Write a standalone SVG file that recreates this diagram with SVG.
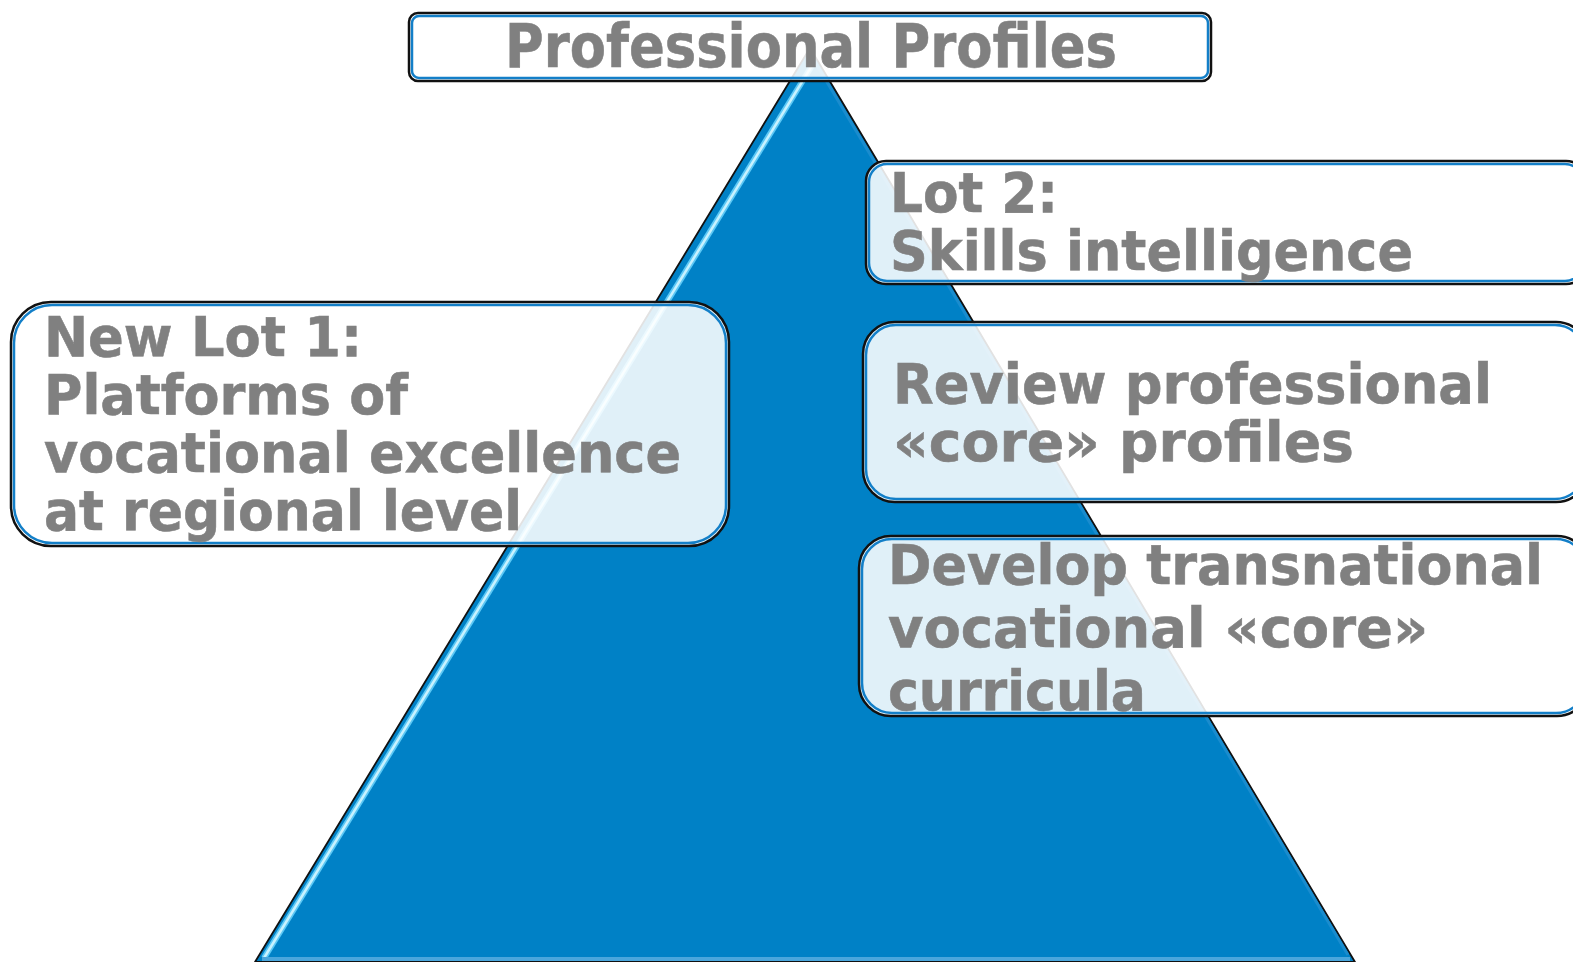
<svg xmlns="http://www.w3.org/2000/svg" width="1573" height="962" viewBox="0 0 1573 962">
  <style>
    .box { fill: #ffffff; fill-opacity: 0.88; stroke: #111111; stroke-width: 2.5; }
    .inner { fill: none; stroke: #137fc8; stroke-width: 2.5; }
    .t { font-family: "DejaVu Sans", Verdana, sans-serif; font-weight: bold; fill: #808080; stroke: #808080; stroke-width: 0.6; }
    .body { font-size: 56px; }
  </style>
  <rect width="1573" height="962" fill="#ffffff"/>

  <g id="pyramid">
    <polygon points="810,48 255,962 1355,962" fill="#0081c6" stroke="#111111" stroke-width="1.8" stroke-linejoin="round"/>
    <line x1="813" y1="64" x2="264" y2="958" stroke="#5cc8f5" stroke-width="6"/>
    <line x1="813" y1="64" x2="264" y2="958" stroke="#c8f2ff" stroke-width="2.5"/>
    <line x1="262" y1="959" x2="1350" y2="959" stroke="#4aa6dc" stroke-width="4"/>
    <line x1="815" y1="62" x2="1348" y2="955" stroke="#1a8cce" stroke-width="3"/>
  </g>

  <g id="title">
    <rect class="box" x="409" y="13" width="802" height="68" rx="9"/>
    <rect class="inner" x="412" y="16" width="796" height="62" rx="7"/>
    <text class="t" x="505" y="67" font-size="60" textLength="612" lengthAdjust="spacingAndGlyphs">Professional Profiles</text>
  </g>

  <g id="lot2">
    <rect class="box" x="866" y="161" width="720" height="123" rx="20"/>
    <rect class="inner" x="869" y="164" width="714" height="117" rx="18"/>
    <text class="t body" x="890" y="212" textLength="168" lengthAdjust="spacingAndGlyphs">Lot 2:</text>
    <text class="t body" x="890" y="270" textLength="523" lengthAdjust="spacingAndGlyphs">Skills intelligence</text>
  </g>

  <g id="lot1">
    <rect class="box" x="11" y="302" width="718" height="244" rx="40"/>
    <rect class="inner" x="14" y="305" width="712" height="238" rx="38"/>
    <text class="t body" x="44" y="356" textLength="318" lengthAdjust="spacingAndGlyphs">New Lot 1:</text>
    <text class="t body" x="44" y="414" textLength="364" lengthAdjust="spacingAndGlyphs">Platforms of</text>
    <text class="t body" x="44" y="472" textLength="637" lengthAdjust="spacingAndGlyphs">vocational excellence</text>
    <text class="t body" x="44" y="530" textLength="478" lengthAdjust="spacingAndGlyphs">at regional level</text>
  </g>

  <g id="review">
    <rect class="box" x="863" y="322" width="725" height="180" rx="32"/>
    <rect class="inner" x="866" y="325" width="719" height="174" rx="30"/>
    <text class="t body" x="893" y="403" textLength="599" lengthAdjust="spacingAndGlyphs">Review professional</text>
    <text class="t body" x="893" y="461" textLength="461" lengthAdjust="spacingAndGlyphs">«core» profiles</text>
  </g>

  <g id="develop">
    <rect class="box" x="859" y="536" width="730" height="180" rx="32"/>
    <rect class="inner" x="862" y="539" width="724" height="174" rx="30"/>
    <text class="t body" x="888" y="584" textLength="655" lengthAdjust="spacingAndGlyphs">Develop transnational</text>
    <text class="t body" x="888" y="647" textLength="540" lengthAdjust="spacingAndGlyphs">vocational «core»</text>
    <text class="t body" x="888" y="710" textLength="258" lengthAdjust="spacingAndGlyphs">curricula</text>
  </g>

  <g id="connectors"></g>
</svg>
